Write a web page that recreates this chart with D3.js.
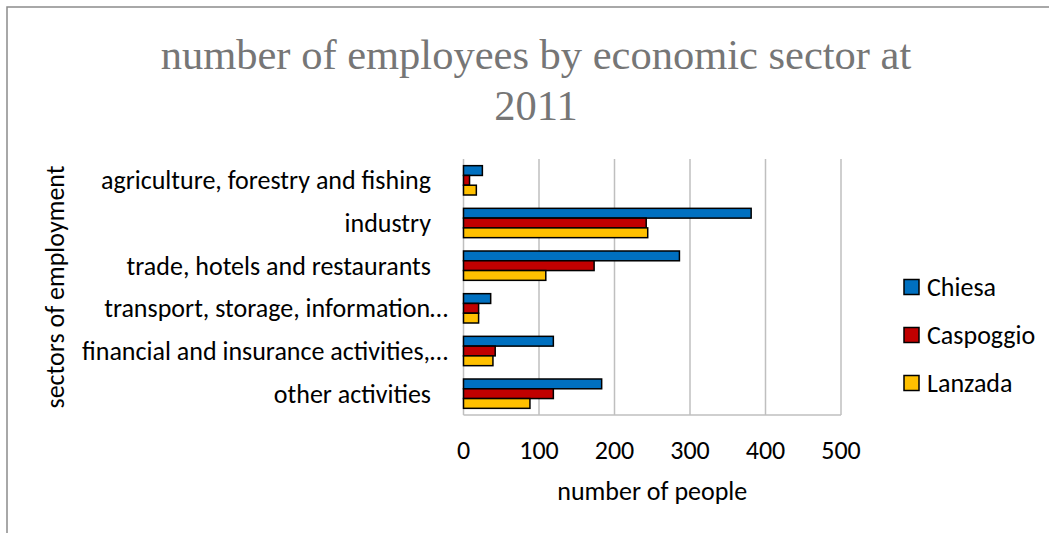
<!DOCTYPE html>
<html>
<head>
<meta charset="utf-8">
<script src="https://cdn.jsdelivr.net/npm/d3@7"></script>
<style>
  html, body { margin: 0; padding: 0; background: #fff; }
  svg { display: block; }
  text { font-family: Carlito, Lato, "Open Sans", sans-serif; }
</style>
</head>
<body>
<svg id="chart" width="1049" height="533"></svg>
<script>
// Employees by economic sector, 2011
const sectors = [
  "agriculture, forestry and fishing",
  "industry",
  "trade, hotels and restaurants",
  "transport, storage, information…",
  "financial and insurance activities,…",
  "other activities"
];
const seriesNames = ["Chiesa", "Caspoggio", "Lanzada"];
const chiesa    = [25, 381, 286, 36, 119, 183];
const caspoggio = [8, 242, 173, 20, 42, 119];
const lanzada   = [17, 244, 109, 20, 39, 88];
const seriesColors = ["#0070C0", "#C00000", "#FFC000"];
const xTicks = [0, 100, 200, 300, 400, 500];

const seriesValues = [chiesa, caspoggio, lanzada];

const svg = d3.select("#chart");

// outer chart frame
svg.append("rect")
  .attr("x", 7).attr("y", 7)
  .attr("width", 1100).attr("height", 600)
  .attr("fill", "none").attr("stroke", "#8c8c8c").attr("stroke-width", 1.5);

const plot = { left: 463.5, right: 841, top: 159, bottom: 415 };

const x = d3.scaleLinear().domain([0, 500]).range([plot.left, plot.right]);
const y = d3.scaleBand().domain(sectors)
  .range([plot.top, plot.bottom])
  .paddingInner(0.3125).paddingOuter(0.15625);
const ySub = d3.scaleBand().domain(seriesNames).range([0, y.bandwidth()]);

// title
const title = svg.append("text")
  .attr("x", 536).attr("text-anchor", "middle")
  .style("font-family", "'Liberation Serif', 'Times New Roman', serif")
  .style("font-size", "42.5px").attr("fill", "#767676");
title.append("tspan").attr("x", 536).attr("y", 69).text("number of employees by economic sector at");
title.append("tspan").attr("x", 536).attr("y", 120).text("2011");

// vertical gridlines
svg.append("g").selectAll("line").data(xTicks.slice(1)).join("line")
  .attr("x1", d => x(d)).attr("x2", d => x(d))
  .attr("y1", plot.top).attr("y2", plot.bottom)
  .attr("stroke", "#bfbfbf").attr("stroke-width", 1.5);

// axes lines
svg.append("line")
  .attr("x1", x(0)).attr("x2", x(500)).attr("y1", plot.bottom).attr("y2", plot.bottom)
  .attr("stroke", "#bfbfbf").attr("stroke-width", 1.5);
svg.append("line")
  .attr("x1", x(0)).attr("x2", x(0)).attr("y1", plot.top).attr("y2", plot.bottom)
  .attr("stroke", "#bfbfbf").attr("stroke-width", 1.5);

// bars
const groups = svg.append("g").selectAll("g").data(sectors).join("g")
  .attr("transform", d => `translate(0,${y(d)})`);
groups.selectAll("rect")
  .data((d, i) => seriesNames.map((s, j) => ({ s, v: seriesValues[j][i], c: seriesColors[j] })))
  .join("rect")
  .attr("x", x(0))
  .attr("y", d => ySub(d.s))
  .attr("width", d => x(d.v) - x(0))
  .attr("height", ySub.bandwidth())
  .attr("fill", d => d.c)
  .attr("stroke", "#000").attr("stroke-width", 1.5);

// category labels
svg.append("g").selectAll("text").data(sectors).join("text")
  .attr("x", d => d.endsWith("…") ? 448 : 431)
  .attr("y", d => y(d) + y.bandwidth() / 2)
  .attr("dy", "0.35em")
  .attr("text-anchor", "end")
  .style("font-size", "26px").attr("fill", "#000")
  .text(d => d);

// x tick labels
svg.append("g").selectAll("text").data(xTicks).join("text")
  .attr("x", d => x(d)).attr("y", 459)
  .attr("text-anchor", "middle")
  .style("font-size", "26px").attr("fill", "#000")
  .text(d => d);

// axis titles
svg.append("text")
  .attr("x", (plot.left + plot.right) / 2).attr("y", 500)
  .attr("text-anchor", "middle")
  .style("font-size", "26px").attr("fill", "#000")
  .text("number of people");

svg.append("text")
  .attr("transform", "translate(64,287) rotate(-90)")
  .attr("text-anchor", "middle")
  .style("font-size", "26px").attr("fill", "#000")
  .text("sectors of employment");

// legend
const legend = svg.append("g").selectAll("g").data(seriesNames).join("g")
  .attr("transform", (d, i) => `translate(904,${287 + i * 48})`);
legend.append("rect")
  .attr("x", 0).attr("y", -7.5).attr("width", 15).attr("height", 15)
  .attr("fill", (d, i) => seriesColors[i])
  .attr("stroke", "#000").attr("stroke-width", 1.5);
legend.append("text")
  .attr("x", 23).attr("dy", "0.35em")
  .style("font-size", "26px").attr("fill", "#000")
  .text(d => d);
</script>
</body>
</html>
